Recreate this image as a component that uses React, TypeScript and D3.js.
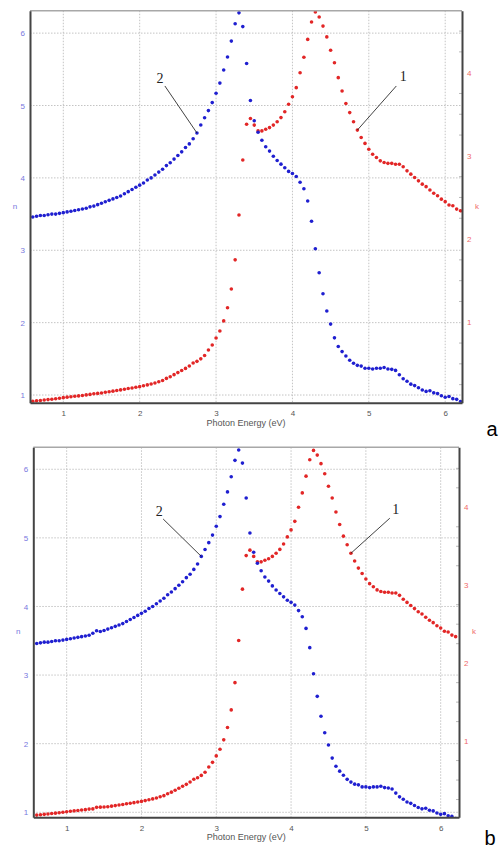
import { useEffect, useRef } from 'react';
import * as d3 from 'd3';

// photon energy (eV) of every measured point
const energies = [
  0.60, 0.65, 0.70, 0.75, 0.80, 0.85, 0.90, 0.95, 1.00, 1.05,
  1.10, 1.15, 1.20, 1.25, 1.30, 1.35, 1.40, 1.45, 1.50, 1.55,
  1.60, 1.65, 1.70, 1.75, 1.80, 1.85, 1.90, 1.95, 2.00, 2.05,
  2.10, 2.15, 2.20, 2.25, 2.30, 2.35, 2.40, 2.45, 2.50, 2.55,
  2.60, 2.65, 2.70, 2.75, 2.80, 2.85, 2.90, 2.95, 3.00, 3.05,
  3.10, 3.15, 3.20, 3.25, 3.30, 3.35, 3.40, 3.45, 3.50, 3.55,
  3.60, 3.65, 3.70, 3.75, 3.80, 3.85, 3.90, 3.95, 4.00, 4.05,
  4.10, 4.15, 4.20, 4.25, 4.30, 4.35, 4.40, 4.45, 4.50, 4.55,
  4.60, 4.65, 4.70, 4.75, 4.80, 4.85, 4.90, 4.95, 5.00, 5.05,
  5.10, 5.15, 5.20, 5.25, 5.30, 5.35, 5.40, 5.45, 5.50, 5.55,
  5.60, 5.65, 5.70, 5.75, 5.80, 5.85, 5.90, 5.95, 6.00, 6.05,
  6.10, 6.15, 6.20,
];

// panel a : refractive index n (curve 2) and extinction k (curve 1)
const nA = [
  3.46, 3.47, 3.48, 3.48, 3.49, 3.50, 3.50, 3.51, 3.52, 3.53,
  3.54, 3.55, 3.56, 3.57, 3.58, 3.60, 3.61, 3.63, 3.65, 3.67,
  3.69, 3.71, 3.73, 3.75, 3.78, 3.81, 3.84, 3.87, 3.90, 3.93,
  3.97, 4.00, 4.04, 4.08, 4.12, 4.17, 4.21, 4.26, 4.31, 4.36,
  4.42, 4.47, 4.54, 4.62, 4.73, 4.83, 4.93, 5.04, 5.17, 5.31,
  5.49, 5.67, 5.89, 6.13, 6.28, 6.09, 5.58, 5.07, 4.79, 4.63,
  4.52, 4.43, 4.37, 4.30, 4.24, 4.19, 4.14, 4.09, 4.06, 4.02,
  3.94, 3.85, 3.68, 3.40, 3.02, 2.69, 2.40, 2.16, 1.98, 1.79,
  1.67, 1.60, 1.54, 1.48, 1.44, 1.41, 1.40, 1.37, 1.37, 1.36,
  1.37, 1.37, 1.38, 1.36, 1.355, 1.34, 1.28, 1.225, 1.19, 1.15,
  1.13, 1.10, 1.07, 1.05, 1.06, 1.03, 1.02, 0.99, 0.97, 0.98,
  0.95, 0.94, 0.91,
];

const kA = [
  0.05, 0.055, 0.06, 0.065, 0.07, 0.075, 0.08, 0.087, 0.094, 0.10,
  0.105, 0.11, 0.115, 0.12, 0.127, 0.133, 0.14, 0.145, 0.15, 0.158,
  0.165, 0.172, 0.18, 0.187, 0.195, 0.203, 0.21, 0.218, 0.226, 0.236,
  0.247, 0.258, 0.27, 0.285, 0.30, 0.325, 0.345, 0.37, 0.395, 0.42,
  0.445, 0.475, 0.51, 0.53, 0.56, 0.60, 0.667, 0.727, 0.81, 0.895,
  1.016, 1.175, 1.40, 1.75, 2.29, 2.95, 3.38, 3.45, 3.37, 3.30,
  3.30, 3.32, 3.34, 3.37, 3.41, 3.46, 3.53, 3.62, 3.71, 3.82,
  4.00, 4.185, 4.40, 4.61, 4.73, 4.67, 4.56, 4.43, 4.27, 4.12,
  3.94, 3.78, 3.63, 3.52, 3.41, 3.31, 3.22, 3.15, 3.08, 3.02,
  2.98, 2.94, 2.92, 2.91, 2.91, 2.90, 2.90, 2.87, 2.82, 2.78,
  2.74, 2.70, 2.66, 2.63, 2.59, 2.55, 2.52, 2.48, 2.45, 2.41,
  2.40, 2.36, 2.34,
];

// panel b
const nB = [
  3.46, 3.47, 3.48, 3.48, 3.49, 3.50, 3.50, 3.51, 3.52, 3.53,
  3.54, 3.55, 3.56, 3.57, 3.58, 3.61, 3.645, 3.635, 3.65, 3.67,
  3.69, 3.71, 3.73, 3.75, 3.78, 3.81, 3.84, 3.87, 3.90, 3.93,
  3.97, 4.00, 4.04, 4.08, 4.12, 4.17, 4.21, 4.26, 4.31, 4.36,
  4.42, 4.47, 4.54, 4.62, 4.73, 4.83, 4.93, 5.04, 5.17, 5.31,
  5.49, 5.67, 5.89, 6.13, 6.28, 6.09, 5.58, 5.07, 4.79, 4.63,
  4.52, 4.43, 4.37, 4.30, 4.24, 4.19, 4.14, 4.09, 4.06, 4.02,
  3.94, 3.85, 3.68, 3.40, 3.02, 2.69, 2.40, 2.16, 1.98, 1.79,
  1.67, 1.60, 1.54, 1.48, 1.44, 1.41, 1.40, 1.37, 1.37, 1.36,
  1.37, 1.37, 1.38, 1.36, 1.355, 1.34, 1.28, 1.225, 1.19, 1.15,
  1.13, 1.10, 1.07, 1.05, 1.06, 1.03, 1.02, 0.99, 0.97, 0.98,
  0.95, 0.94, 0.91,
];

const kB = [
  0.05, 0.055, 0.06, 0.065, 0.07, 0.075, 0.08, 0.087, 0.094, 0.10,
  0.105, 0.11, 0.115, 0.12, 0.127, 0.13, 0.15, 0.152, 0.155, 0.158,
  0.165, 0.172, 0.18, 0.187, 0.195, 0.203, 0.21, 0.218, 0.226, 0.236,
  0.247, 0.258, 0.27, 0.285, 0.30, 0.325, 0.345, 0.37, 0.395, 0.42,
  0.445, 0.475, 0.51, 0.53, 0.56, 0.60, 0.667, 0.727, 0.81, 0.895,
  1.016, 1.175, 1.40, 1.75, 2.29, 2.95, 3.38, 3.45, 3.37, 3.30,
  3.30, 3.32, 3.34, 3.37, 3.41, 3.46, 3.53, 3.62, 3.71, 3.82,
  4.00, 4.185, 4.40, 4.61, 4.73, 4.67, 4.56, 4.43, 4.27, 4.12,
  3.94, 3.78, 3.63, 3.52, 3.41, 3.31, 3.22, 3.15, 3.08, 3.02,
  2.98, 2.94, 2.92, 2.91, 2.91, 2.90, 2.90, 2.87, 2.82, 2.78,
  2.74, 2.70, 2.66, 2.63, 2.59, 2.55, 2.52, 2.48, 2.45, 2.41,
  2.40, 2.36, 2.34,
];

const xTicks = [1, 2, 3, 4, 5, 6];
const nTicks = [1, 2, 3, 4, 5, 6];
const kTicks = [1, 2, 3, 4];
const kMinor = [0.25, 0.5, 0.75, 1.25, 1.5, 1.75, 2.25, 2.5, 2.75, 3.25, 3.5, 3.75, 4.25, 4.5];

const BLUE = '#1f1fd0';
const RED = '#e22626';

// each panel: frame in pixels, axis domains, annotation anchors (data coords)
const panels = [
  {
    id: 'a',
    nVals: nA,
    kVals: kA,
    left: 30, right: 462, top: 10.7, bottom: 402.7,
    xDomain: [0.564, 6.22],
    nDomain: [0.894, 6.31],
    kDomain: [0.033, 4.745],
    n2: { from: [2.33, 5.27], dot: 2.75, text: [-5, 4.5] },
    k1: { from: [5.36, 3.84], dot: 4.85, text: [7, 2] },
    letterX: 492, letterY: 436,
  },
  {
    id: 'b',
    nVals: nB,
    kVals: kB,
    left: 33.3, right: 459, top: 447.3, bottom: 817.3,
    xDomain: [0.554, 6.245],
    nDomain: [0.927, 6.32],
    kDomain: [0.022, 4.77],
    n2: { from: [2.29, 5.275], dot: 2.80, text: [-4, 4.5] },
    k1: { from: [5.32, 3.86], dot: 4.80, text: [6, 2.5] },
    letterX: 490, letterY: 845,
  },
];

const App = () => {
  const svgRef = useRef<SVGSVGElement>(null);

  useEffect(() => {
    const svg = d3.select(svgRef.current);
    svg.selectAll('*').remove();

    panels.forEach((p) => {
      const x = d3.scaleLinear().domain(p.xDomain).range([p.left, p.right]);
      const yN = d3.scaleLinear().domain(p.nDomain).range([p.bottom, p.top]);
      const yK = d3.scaleLinear().domain(p.kDomain).range([p.bottom, p.top]);

      const g = svg.append('g');

      // ---- grid
      g.selectAll('.vg')
        .data(xTicks)
        .enter()
        .append('line')
        .attr('x1', (d) => x(d))
        .attr('x2', (d) => x(d))
        .attr('y1', p.top)
        .attr('y2', p.bottom)
        .attr('stroke', '#c4c4c4')
        .attr('stroke-width', 1)
        .attr('stroke-dasharray', '1.5,1.5');

      g.selectAll('.hg')
        .data(nTicks)
        .enter()
        .append('line')
        .attr('x1', p.left)
        .attr('x2', p.right)
        .attr('y1', (d) => yN(d))
        .attr('y2', (d) => yN(d))
        .attr('stroke', '#c4c4c4')
        .attr('stroke-width', 1)
        .attr('stroke-dasharray', '1.5,1.5');

      // minor k ticks on right axis
      g.selectAll('.km')
        .data(kMinor.filter((d) => d > p.kDomain[0] && d < p.kDomain[1]))
        .enter()
        .append('line')
        .attr('x1', p.right - 3)
        .attr('x2', p.right)
        .attr('y1', (d) => yK(d))
        .attr('y2', (d) => yK(d))
        .attr('stroke', '#bbb');

      // ---- dots
      const clipId = `clip-${p.id}`;
      svg.append('clipPath')
        .attr('id', clipId)
        .append('rect')
        .attr('x', p.left)
        .attr('y', p.top - 2)
        .attr('width', p.right - p.left)
        .attr('height', p.bottom - p.top + 2);

      const dots = g.append('g').attr('clip-path', `url(#${clipId})`);

      dots.selectAll('.kd')
        .data(energies)
        .enter()
        .append('circle')
        .attr('cx', (d) => x(d))
        .attr('cy', (d, i) => yK(p.kVals[i]))
        .attr('r', 1.8)
        .attr('fill', RED);

      dots.selectAll('.nd')
        .data(energies)
        .enter()
        .append('circle')
        .attr('cx', (d) => x(d))
        .attr('cy', (d, i) => yN(p.nVals[i]))
        .attr('r', 1.8)
        .attr('fill', BLUE);

      // ---- frame
      g.append('line')
        .attr('x1', p.left).attr('x2', p.right)
        .attr('y1', p.top).attr('y2', p.top)
        .attr('stroke', '#a8a8a8').attr('stroke-width', 1.5);

      // ---- axes
      const xAxis = g.append('g')
        .attr('transform', `translate(0,${p.bottom})`)
        .call(d3.axisBottom(x).tickValues(xTicks).tickSize(0).tickPadding(8).tickFormat(d3.format('d')));
      xAxis.select('.domain').attr('stroke', '#444').attr('stroke-width', 2);
      xAxis.selectAll('text').style('fill', '#555').style('font-size', '8px').style('font-family', 'Arial, "Liberation Sans", sans-serif');

      const nAxis = g.append('g')
        .attr('transform', `translate(${p.left},0)`)
        .call(d3.axisLeft(yN).tickValues(nTicks).tickSize(0).tickPadding(5).tickFormat(d3.format('d')));
      nAxis.select('.domain').attr('stroke', '#444').attr('stroke-width', 2);
      nAxis.selectAll('text').style('fill', '#7777de').style('font-size', '8px').style('font-family', 'Arial, "Liberation Sans", sans-serif');

      const kAxis = g.append('g')
        .attr('transform', `translate(${p.right},0)`)
        .call(d3.axisRight(yK).tickValues(kTicks).tickSize(0).tickPadding(5).tickFormat(d3.format('d')));
      kAxis.select('.domain').attr('stroke', '#444').attr('stroke-width', 2);
      kAxis.selectAll('text').style('fill', '#f06a6a').style('font-size', '8px').style('font-family', 'Arial, "Liberation Sans", sans-serif');

      const midY = (p.top + p.bottom) / 2;

      g.append('text')
        .attr('x', p.left - 15)
        .attr('y', midY + 2)
        .attr('text-anchor', 'middle')
        .style('fill', '#7777de')
        .style('font-size', '8px')
        .style('font-family', 'Arial, "Liberation Sans", sans-serif')
        .text('n');

      g.append('text')
        .attr('x', p.right + 15)
        .attr('y', midY + 2)
        .attr('text-anchor', 'middle')
        .style('fill', '#f06a6a')
        .style('font-size', '8px')
        .style('font-family', 'Arial, "Liberation Sans", sans-serif')
        .text('k');

      g.append('text')
        .attr('x', (p.left + p.right) / 2 + 0)
        .attr('y', p.bottom + 23)
        .attr('text-anchor', 'middle')
        .style('fill', '#555')
        .style('font-size', '9px')
        .style('font-family', 'Arial, "Liberation Sans", sans-serif')
        .text('Photon Energy (eV)');

      // ---- annotations
      const nIdx = energies.indexOf(p.n2.dot);
      const n2x0 = x(p.n2.from[0]);
      const n2y0 = yN(p.n2.from[1]);
      g.append('line')
        .attr('x1', n2x0).attr('y1', n2y0)
        .attr('x2', x(energies[nIdx])).attr('y2', yN(p.nVals[nIdx]))
        .attr('stroke', '#111').attr('stroke-width', 0.8);
      g.append('text')
        .attr('x', n2x0 + p.n2.text[0])
        .attr('y', n2y0 + p.n2.text[1] - 7)
        .attr('text-anchor', 'middle')
        .style('font-family', '"Liberation Serif", "Times New Roman", serif')
        .style('font-size', '14px')
        .style('fill', '#222')
        .text('2');

      const kIdx = energies.indexOf(p.k1.dot);
      const k1x0 = x(p.k1.from[0]);
      const k1y0 = yK(p.k1.from[1]);
      g.append('line')
        .attr('x1', k1x0).attr('y1', k1y0)
        .attr('x2', x(energies[kIdx])).attr('y2', yK(p.kVals[kIdx]))
        .attr('stroke', '#111').attr('stroke-width', 0.8);
      g.append('text')
        .attr('x', k1x0 + p.k1.text[0])
        .attr('y', k1y0 + p.k1.text[1] - 7)
        .attr('text-anchor', 'middle')
        .style('font-family', '"Liberation Serif", "Times New Roman", serif')
        .style('font-size', '14px')
        .style('fill', '#222')
        .text('1');

      // panel letter
      g.append('text')
        .attr('x', p.letterX)
        .attr('y', p.letterY)
        .attr('text-anchor', 'middle')
        .style('font-family', 'Arial, "Liberation Sans", sans-serif')
        .style('font-size', '20px')
        .style('fill', '#000')
        .text(p.id);
    });
  }, []);

  return (
    <svg
      ref={svgRef}
      width={502}
      height={848}
      style={{ position: 'absolute', left: 0, top: 0, background: '#fff' }}
    />
  );
};

export default App;
